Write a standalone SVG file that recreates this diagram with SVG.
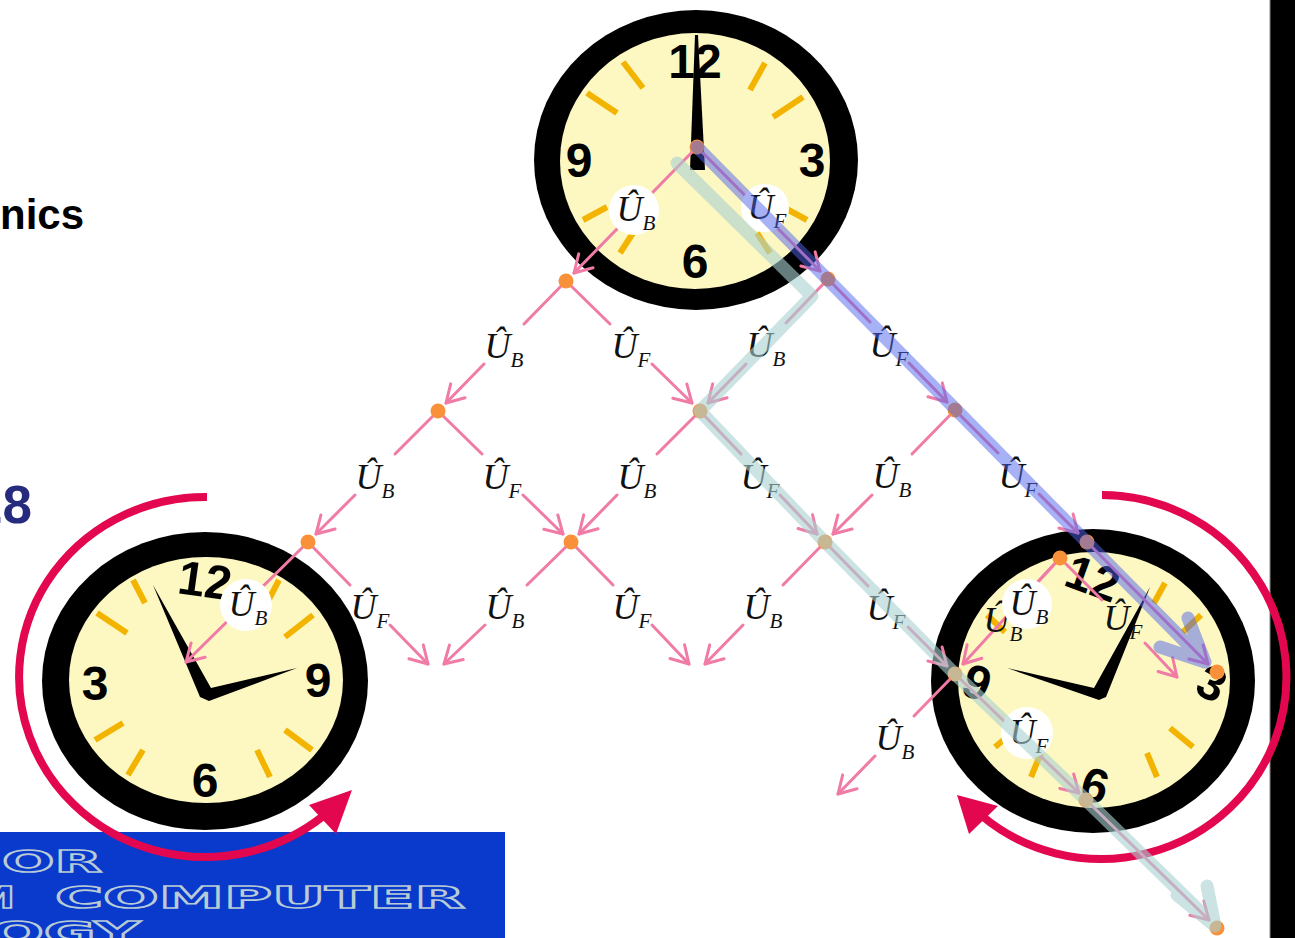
<svg xmlns="http://www.w3.org/2000/svg" width="1295" height="938" viewBox="0 0 1295 938">
<style>
.ring{fill:#000}
.face{fill:#fdf8c2}
.tick{stroke:#f2b400;stroke-width:6;fill:none}
.num{font-family:"Liberation Sans",Arial,sans-serif;font-weight:bold;font-size:48px;fill:#000;text-anchor:middle}
.hand{fill:#000}
.edge{stroke:#f07ba6;stroke-width:3;fill:none;stroke-linecap:round}
.arr{marker-end:url(#ah)}
.node{fill:#f8913a}
.lbl{font-family:"Liberation Serif","Times New Roman",serif;font-style:italic;font-size:36px;fill:#111;text-anchor:middle}
.sub{font-size:21px}
.bg{fill:#fff}
.turn{fill:none;stroke:#e3074f;stroke-width:8}
.turnhead{fill:#e3074f}
.band{fill:none;stroke-width:13;stroke-linecap:round;stroke-linejoin:round}
.logo{font-family:"DejaVu Sans",sans-serif;font-weight:bold;font-size:31px;fill:#0a3acc;stroke:#b9ccd6;stroke-width:1.6}
</style>
<defs>
<marker id="ah" viewBox="-22 -13 26 26" refX="0" refY="0" markerWidth="26" markerHeight="26" markerUnits="userSpaceOnUse" orient="auto">
<path d="M-17,-10 L0,0 L-17,10" fill="none" stroke="#f07ba6" stroke-width="3" stroke-linecap="round" stroke-linejoin="round"/>
</marker>
</defs>
<rect width="1295" height="938" fill="#fff"/>

<!-- page fragments -->
<text x="0" y="229" font-family="Liberation Sans, Arial, sans-serif" font-weight="bold" font-size="42" fill="#000">nics</text>
<text x="-27" y="523" font-family="Liberation Sans, Arial, sans-serif" font-weight="bold" font-size="53" fill="#272b7d">28</text>
<rect x="1270" y="0" width="25" height="938" fill="#000"/>
<line x1="1270" y1="0" x2="1270" y2="938" stroke="#888" stroke-width="1"/>

<!-- banner -->
<g id="banner">
<rect x="0" y="832" width="505" height="106" fill="#0a3acc"/>
<text class="logo" x="2" y="872" textLength="100" lengthAdjust="spacingAndGlyphs">OR</text>
<text class="logo" x="-28" y="908" textLength="43" lengthAdjust="spacingAndGlyphs">M</text>
<text class="logo" x="55" y="908" textLength="410" lengthAdjust="spacingAndGlyphs">COMPUTER</text>
<text class="logo" x="-10" y="943" textLength="150" lengthAdjust="spacingAndGlyphs">OGY</text>
</g>

<!-- top clock -->
<g id="clock-top">
<ellipse class="ring" cx="696" cy="160" rx="162" ry="150"/>
<ellipse class="face" cx="695" cy="161" rx="135" ry="128"/>
<g class="tick">
<line x1="750" y1="90" x2="765" y2="63"/><line x1="773" y1="117" x2="803" y2="97"/>
<line x1="783" y1="207" x2="807" y2="220"/><line x1="757" y1="233" x2="770" y2="253"/>
<line x1="633" y1="233" x2="620" y2="253"/><line x1="607" y1="207" x2="583" y2="220"/>
<line x1="587" y1="93" x2="617" y2="113"/><line x1="623" y1="62" x2="643" y2="88"/>
</g>
<text class="num" x="695" y="78">12</text>
<text class="num" x="579" y="177">9</text>
<text class="num" x="812" y="177">3</text>
<text class="num" x="695" y="278">6</text>
<polygon class="hand" points="695,35 698,35 705,170 690,170"/>
</g>

<!-- left clock -->
<g id="clock-left">
<ellipse class="ring" cx="205" cy="681" rx="163" ry="149"/>
<ellipse class="face" cx="206" cy="680" rx="137" ry="123"/>
<g class="tick">
<line x1="133" y1="580" x2="145" y2="603"/><line x1="97" y1="613" x2="127" y2="633"/>
<line x1="279" y1="580" x2="267" y2="603"/><line x1="313" y1="615" x2="285" y2="637"/>
<line x1="95" y1="740" x2="123" y2="723"/><line x1="128" y1="775" x2="143" y2="750"/>
<line x1="270" y1="777" x2="257" y2="750"/><line x1="312" y1="750" x2="285" y2="730"/>
</g>
<text class="num" x="205" y="597" transform="rotate(8 205 580)">12</text>
<text class="num" x="95" y="700">3</text>
<text class="num" x="318" y="697">9</text>
<text class="num" x="205" y="797">6</text>
<polygon class="hand" points="153,585 211,688 297,668 209,701 200,697"/>
</g>

<!-- right clock -->
<g id="clock-right">
<ellipse class="ring" cx="1093" cy="681" rx="162" ry="152"/>
<ellipse class="face" cx="1094" cy="680" rx="136" ry="128"/>
<g class="tick">
<line x1="1165" y1="583" x2="1154" y2="603"/><line x1="1201" y1="615" x2="1183" y2="632"/>
<line x1="1193" y1="747" x2="1170" y2="728"/><line x1="1157" y1="777" x2="1147" y2="753"/>
<line x1="1031" y1="777" x2="1041" y2="753"/><line x1="995" y1="747" x2="1018" y2="728"/>
<line x1="987" y1="615" x2="1005" y2="632"/><line x1="1023" y1="583" x2="1034" y2="603"/>
</g>
<text class="num" x="1093" y="595" transform="rotate(20 1093 578)">12</text>
<text class="num" x="1212" y="700" transform="rotate(25 1212 683)">3</text>
<text class="num" x="977" y="699" transform="rotate(20 977 682)">9</text>
<text class="num" x="1095" y="802" transform="rotate(15 1095 785)">6</text>
<polygon class="hand" points="1007,668 1094,688 1150,587 1106,697 1099,700"/>
</g>

<!-- rotation arrows -->
<g id="turn-left">
<path class="turn" d="M207,497 A186,180 0 1 0 322,817"/>
<polygon class="turnhead" points="352,790 309,805 336,834"/>
</g>
<g id="turn-right">
<path class="turn" d="M1102,495 A185,182 0 1 1 982,816"/>
<polygon class="turnhead" points="957,795 998,806 969,834"/>
</g>

<!-- connectors -->
<g id="connectors">
<line class="edge arr" x1="697" y1="147" x2="574" y2="273"/>
<line class="edge arr" x1="697" y1="147" x2="820" y2="271"/>
<line class="edge" x1="566" y1="281" x2="524" y2="324"/><line class="edge arr" x1="484" y1="364" x2="446" y2="403"/>
<line class="edge" x1="566" y1="281" x2="610" y2="324"/><line class="edge arr" x1="652" y1="364" x2="692" y2="403"/>
<line class="edge" x1="828" y1="279" x2="786" y2="323"/><line class="edge arr" x1="746" y1="364" x2="708" y2="403"/>
<line class="edge" x1="828" y1="279" x2="870" y2="322"/><line class="edge arr" x1="909" y1="363" x2="947" y2="402"/>
<line class="edge" x1="438" y1="411" x2="395" y2="454"/><line class="edge arr" x1="355" y1="495" x2="316" y2="534"/>
<line class="edge" x1="438" y1="411" x2="482" y2="454"/><line class="edge arr" x1="523" y1="495" x2="563" y2="534"/>
<line class="edge" x1="700" y1="411" x2="657" y2="454"/><line class="edge arr" x1="617" y1="495" x2="579" y2="534"/>
<line class="edge" x1="700" y1="411" x2="741" y2="454"/><line class="edge arr" x1="780" y1="495" x2="817" y2="534"/>
<line class="edge" x1="955" y1="410" x2="912" y2="454"/><line class="edge arr" x1="872" y1="495" x2="833" y2="534"/>
<line class="edge" x1="955" y1="410" x2="998" y2="453"/><line class="edge arr" x1="1039" y1="494" x2="1078" y2="533"/>
<line class="edge arr" x1="308" y1="542" x2="186" y2="662"/>
<line class="edge" x1="308" y1="542" x2="350" y2="585"/><line class="edge arr" x1="390" y1="625" x2="428" y2="664"/>
<line class="edge" x1="571" y1="542" x2="527" y2="585"/><line class="edge arr" x1="485" y1="625" x2="444" y2="664"/>
<line class="edge" x1="571" y1="542" x2="613" y2="585"/><line class="edge arr" x1="652" y1="625" x2="689" y2="664"/>
<line class="edge" x1="825" y1="542" x2="783" y2="585"/><line class="edge arr" x1="743" y1="625" x2="705" y2="664"/>
<line class="edge" x1="825" y1="542" x2="868" y2="586"/><line class="edge arr" x1="908" y1="627" x2="947" y2="666"/>
<line class="edge" x1="955" y1="674" x2="914" y2="716"/><line class="edge arr" x1="875" y1="756" x2="838" y2="794"/>
<line class="edge arr" x1="955" y1="674" x2="1079" y2="793"/>
<line class="edge arr" x1="1086" y1="800" x2="1209" y2="920"/>
<line class="edge arr" x1="1087" y1="542" x2="1208" y2="664"/>
<line class="edge" x1="1060" y1="558" x2="1032" y2="588" stroke-width="6"/>
<line class="edge arr" x1="1060" y1="558" x2="963" y2="664"/>
<line class="edge" x1="1060" y1="558" x2="1102" y2="600"/><line class="edge arr" x1="1145" y1="643" x2="1177" y2="677"/>

<!-- operator labels -->
<text class="lbl" x="504" y="358">Û<tspan class="sub" dy="9">B</tspan></text>
<text class="lbl" x="631" y="358">Û<tspan class="sub" dy="9">F</tspan></text>
<text class="lbl" x="766" y="357">Û<tspan class="sub" dy="9">B</tspan></text>
<text class="lbl" x="889" y="357">Û<tspan class="sub" dy="9">F</tspan></text>
<text class="lbl" x="375" y="489">Û<tspan class="sub" dy="9">B</tspan></text>
<text class="lbl" x="502" y="489">Û<tspan class="sub" dy="9">F</tspan></text>
<text class="lbl" x="637" y="489">Û<tspan class="sub" dy="9">B</tspan></text>
<text class="lbl" x="760" y="489">Û<tspan class="sub" dy="9">F</tspan></text>
<text class="lbl" x="892" y="488">Û<tspan class="sub" dy="9">B</tspan></text>
<text class="lbl" x="1018" y="488">Û<tspan class="sub" dy="9">F</tspan></text>
<text class="lbl" x="370" y="619">Û<tspan class="sub" dy="9">F</tspan></text>
<text class="lbl" x="505" y="619">Û<tspan class="sub" dy="9">B</tspan></text>
<text class="lbl" x="632" y="619">Û<tspan class="sub" dy="9">F</tspan></text>
<text class="lbl" x="763" y="619">Û<tspan class="sub" dy="9">B</tspan></text>
<text class="lbl" x="886" y="620">Û<tspan class="sub" dy="9">F</tspan></text>
<text class="lbl" x="895" y="750">Û<tspan class="sub" dy="9">B</tspan></text>
<text class="lbl" x="1003" y="632">Û<tspan class="sub" dy="9">B</tspan></text>
<text class="lbl" x="1123" y="630">Û<tspan class="sub" dy="9">F</tspan></text>
<circle class="bg" cx="634" cy="210" r="25"/>
<text class="lbl" x="636" y="221">Û<tspan class="sub" dy="9">B</tspan></text>
<circle class="bg" cx="765" cy="208" r="24"/>
<text class="lbl" x="767" y="219">Û<tspan class="sub" dy="9">F</tspan></text>
<circle class="bg" cx="246" cy="605" r="26"/>
<text class="lbl" x="248" y="616">Û<tspan class="sub" dy="9">B</tspan></text>
<circle class="bg" cx="1027" cy="604" r="25"/>
<text class="lbl" x="1029" y="615">Û<tspan class="sub" dy="9">B</tspan></text>
<circle class="bg" cx="1027" cy="733" r="26"/>
<text class="lbl" x="1029" y="744">Û<tspan class="sub" dy="9">F</tspan></text>
</g>

<!-- lattice nodes -->
<g id="node-0-0"><circle class="node" cx="697" cy="147" r="7.5"/></g>
<g id="node-1-0"><circle class="node" cx="566" cy="281" r="7.5"/></g>
<g id="node-1-1"><circle class="node" cx="828" cy="279" r="7.5"/></g>
<g id="node-2-0"><circle class="node" cx="438" cy="411" r="7.5"/></g>
<g id="node-2-1"><circle class="node" cx="700" cy="411" r="7.5"/></g>
<g id="node-2-2"><circle class="node" cx="955" cy="410" r="7.5"/></g>
<g id="node-3-0"><circle class="node" cx="308" cy="542" r="7.5"/></g>
<g id="node-3-1"><circle class="node" cx="571" cy="542" r="7.5"/></g>
<g id="node-3-2"><circle class="node" cx="825" cy="542" r="7.5"/></g>
<g id="node-3-3"><circle class="node" cx="1087" cy="542" r="7.5"/></g>
<g id="node-3-3b"><circle class="node" cx="1060" cy="558" r="7.5"/></g>
<g id="node-4-3"><circle class="node" cx="955" cy="674" r="7.5"/></g>
<g id="node-4-4"><circle class="node" cx="1217" cy="672" r="7.5"/></g>
<g id="node-5-4"><circle class="node" cx="1086" cy="800" r="7.5"/></g>
<g id="node-6-5"><circle class="node" cx="1217" cy="928" r="7.5"/></g>

<!-- highlighted paths -->
<g id="path-forward" opacity="0.5">
<path class="band" stroke="#5064eb" d="M697,147 L1205,662 M1188,618 L1205,662 L1160,647"/>
</g>
<g id="path-mixed" opacity="0.6">
<path class="band" stroke="#a8d0d0" d="M677,163 L812,296 L700,411 L825,542 L955,674 L1086,800 L1215,926 M1177,895 L1215,926 L1207,886"/>
</g>
</svg>
